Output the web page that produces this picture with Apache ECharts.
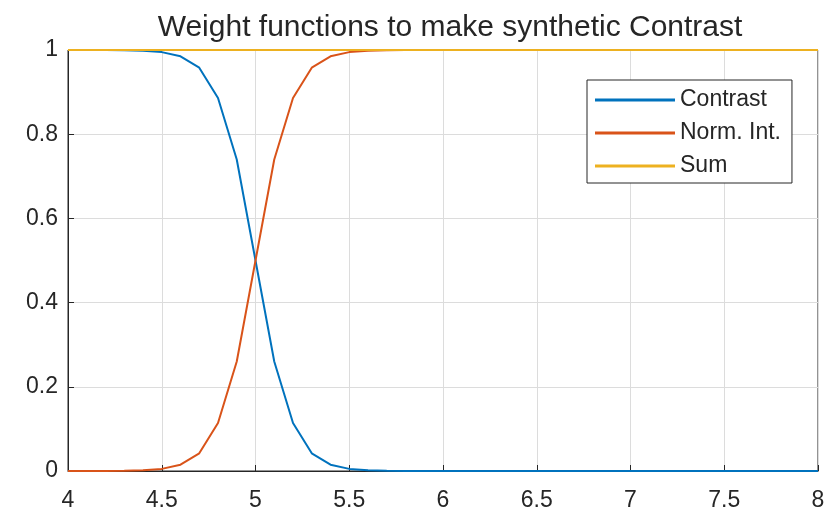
<!DOCTYPE html>
<html><head><meta charset="utf-8">
<script src="https://cdn.jsdelivr.net/npm/echarts@6/dist/echarts.min.js"></script>
<style>html,body{margin:0;padding:0;background:#fff}#c{width:836px;height:519px}</style>
</head><body><div id="c"></div>
<script>
const xs = [4.0,4.1,4.2,4.3,4.4,4.5,4.6,4.7,4.8,4.9,5.0,5.1,5.2,5.3,5.4,5.5,5.6,5.7,5.8,5.9,6.0,6.1,6.2,6.3,6.4,6.5,6.6,6.7,6.8,6.9,7.0,7.1,7.2,7.3,7.4,7.5,7.6,7.7,7.8,7.9,8.0];
const contrast = [1.0,0.9999,0.9998,0.9994,0.998,0.995,0.985,0.958,0.886,0.74,0.5,0.26,0.114,0.042,0.015,0.005,0.0018,0.0006,0.0002,0.0001,0,0,0,0,0,0,0,0,0,0,0,0,0,0,0,0,0,0,0,0,0];
const normInt = [0.0,0.0001,0.0002,0.0006,0.002,0.005,0.015,0.042,0.114,0.26,0.5,0.74,0.886,0.958,0.985,0.995,0.9982,0.9994,0.9998,0.9999,1,1,1,1,1,1,1,1,1,1,1,1,1,1,1,1,1,1,1,1,1];
const sum = [1,1,1,1,1,1,1,1,1,1,1,1,1,1,1,1,1,1,1,1,1,1,1,1,1,1,1,1,1,1,1,1,1,1,1,1,1,1,1,1,1];
const seriesNames = ['Contrast','Norm. Int.','Sum'];
const colors = ['#0072BD','#D95319','#EDB120'];
const titleText = 'Weight functions to make synthetic Contrast';

const pair = arr => xs.map((x,i)=>[x,arr[i]]);
const font = 'Liberation Sans, Arial, Helvetica, sans-serif';
const chart = echarts.init(document.getElementById('c'));
chart.setOption({
  animation:false,
  backgroundColor:'#fff',
  title:{text:titleText,left:445,textAlign:'center',top:8,textStyle:{fontFamily:font,fontSize:30,fontWeight:'normal',color:'#262626'}},
  grid:{left:68,right:18,top:50,bottom:48,show:true,borderColor:'#262626',borderWidth:1,backgroundColor:'#fff'},
  legend:{orient:'vertical',left:587,top:80,itemWidth:80,itemHeight:3,itemGap:9,padding:[8,11,5,8],
    backgroundColor:'#fff',borderColor:'#262626',borderWidth:1,borderRadius:0,
    icon:'rect',
    textStyle:{fontFamily:font,fontSize:23,lineHeight:24,color:'#262626',padding:[0,0,0,0]},
    data:seriesNames},
  xAxis:{type:'value',min:4,max:8,interval:0.5,
    axisLine:{show:true,onZero:false,lineStyle:{color:'#262626'}},
    axisTick:{show:true,inside:true,length:6,lineStyle:{color:'#262626'}},
    axisLabel:{fontFamily:font,fontSize:23,color:'#262626',margin:18,formatter:v=>String(v)},
    splitLine:{show:true,lineStyle:{color:'#dcdcdc',width:1}}},
  yAxis:{type:'value',min:0,max:1,interval:0.2,
    axisLine:{show:true,lineStyle:{color:'#262626'}},
    axisTick:{show:true,inside:true,length:6,lineStyle:{color:'#262626'}},
    axisLabel:{fontFamily:font,fontSize:23,color:'#262626',margin:10,padding:[4,0,0,0],formatter:v=>String(+v.toFixed(1))},
    splitLine:{show:true,lineStyle:{color:'#dcdcdc',width:1}}},
  series:[
    {name:seriesNames[0],type:'line',data:pair(contrast),showSymbol:false,lineStyle:{color:colors[0],width:2},itemStyle:{color:colors[0]},z:3},
    {name:seriesNames[1],type:'line',data:pair(normInt),showSymbol:false,lineStyle:{color:colors[1],width:2},itemStyle:{color:colors[1]},z:4},
    {name:seriesNames[2],type:'line',data:pair(sum),showSymbol:false,lineStyle:{color:colors[2],width:2},itemStyle:{color:colors[2]},z:5}
  ]
});
</script></body></html>
